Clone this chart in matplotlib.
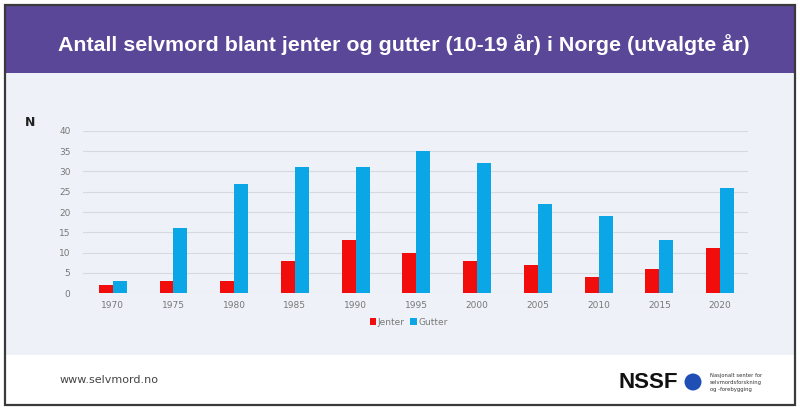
import numpy as np
import matplotlib
matplotlib.use("Agg")
import matplotlib.pyplot as plt
import matplotlib.patches as mpatches

# data
years = ["1970", "1975", "1980", "1985", "1990", "1995", "2000", "2005", "2010", "2015", "2020"]
jenter = [2, 3, 3, 8, 13, 10, 8, 7, 4, 6, 11]
gutter = [3, 16, 27, 31, 31, 35, 32, 22, 19, 13, 26]
yticks = [0, 5, 10, 15, 20, 25, 30, 35, 40]

title = "Antall selvmord blant jenter og gutter (10-19 år) i Norge (utvalgte år)"
purple = "#5A4798"
panel = "#EEF2F8"
red = "#F20D0D"
blue = "#0AA6E6"

W, H = 800, 411
fig = plt.figure(figsize=(W / 100, H / 100), dpi=100)
fig.patch.set_facecolor("white")

def box(x0, y0, x1, y1, **kw):
    # pixel coords, y from top
    r = mpatches.Rectangle((x0 / W, 1 - y1 / H), (x1 - x0) / W, (y1 - y0) / H,
                           transform=fig.transFigure, **kw)
    fig.patches.append(r)
    return r

box(5, 73, 795, 355, facecolor=panel, edgecolor="none", zorder=-2)
box(5, 5, 795, 73, facecolor=purple, edgecolor="none", zorder=-2)
box(5, 5, 795, 405, facecolor="none", edgecolor="#3a3a3a", linewidth=1.6, zorder=5)

fig.text(404 / W, 1 - 45 / H, title, color="white", fontsize=15.4, fontweight="bold",
         ha="center", va="center", family="Liberation Sans")

ax = fig.add_axes([83 / W, 1 - 293 / H, (748 - 83) / W, (293 - 131) / H])
ax.set_zorder(3)
ax.set_facecolor("none")
x = np.arange(len(years))
w = 0.23
ax.bar(x - w / 2, jenter, w, color=red, label="Jenter", zorder=3)
ax.bar(x + w / 2, gutter, w, color=blue, label="Gutter", zorder=3)
ax.set_xlim(-0.49, 10.46)
ax.set_ylim(0, 40)
ax.set_yticks(yticks)
ax.set_xticks(x)
ax.set_xticklabels(years)
ax.grid(axis="y", color="#D6DAE0", linewidth=0.8, zorder=0)
ax.set_axisbelow(True)
for s in ax.spines.values():
    s.set_visible(False)
ax.tick_params(length=0, labelsize=6.5, labelcolor="#777777", pad=6)
ax.tick_params(axis="y", pad=9)

fig.text(30 / W, 1 - 122 / H, "N", fontsize=9, fontweight="bold", color="#222222",
         ha="center", va="center")

leg = ax.legend(loc="center", bbox_to_anchor=(0.49, -0.18), ncol=2, frameon=False,
                fontsize=6.5, handlelength=0.7, handleheight=0.7, handletextpad=0.2,
                columnspacing=0.6)
for t in leg.get_texts():
    t.set_color("#777777")

fig.text(60 / W, 1 - 380 / H, "www.selvmord.no", fontsize=8, color="#444444",
         ha="left", va="center")
fig.text(648 / W, 1 - 382 / H, "NSSF", fontsize=16, fontweight="bold", color="#111111",
         ha="center", va="center", family="Liberation Sans")
circ = mpatches.Ellipse((693 / W, 1 - 382 / H), 17 / W, 17 / H, transform=fig.transFigure,
                        facecolor="#1F4FB5", edgecolor="none")
fig.patches.append(circ)
for i, line in enumerate(["Nasjonalt senter for", "selvmordsforskning", "og -forebygging"]):
    fig.text(710 / W, 1 - (375 + i * 7) / H, line, fontsize=3.8, color="#333333",
             ha="left", va="center")

fig.savefig("out.png", dpi=100, facecolor="white")
